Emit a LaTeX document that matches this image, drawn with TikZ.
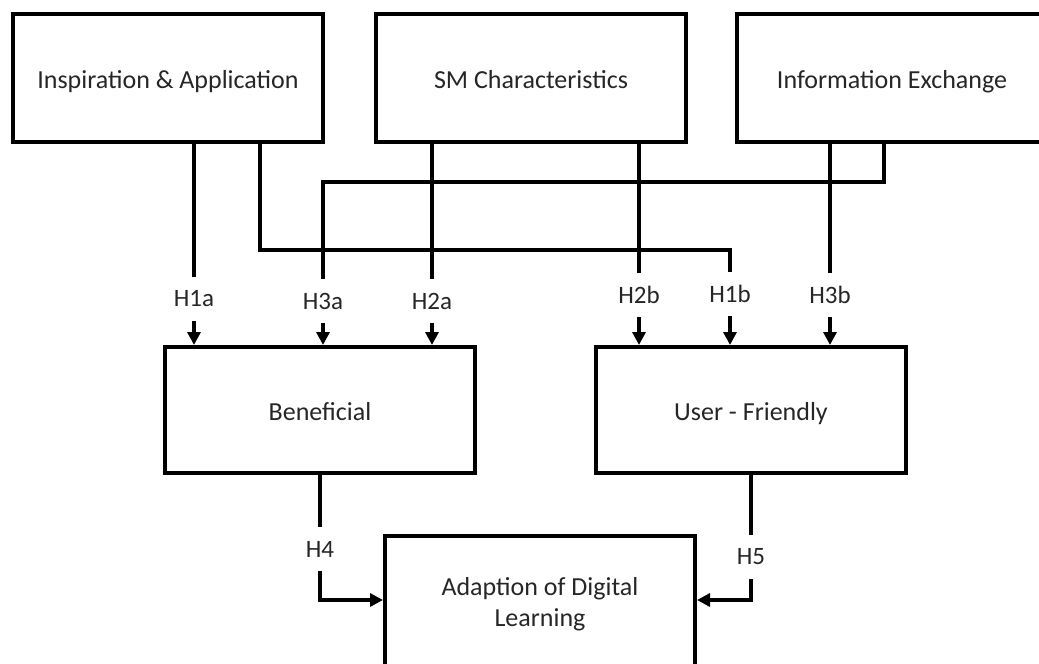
\documentclass[tikz,border=0pt]{standalone}
\usepackage{fontspec}
\setmainfont{Carlito}
\usetikzlibrary{arrows.meta,calc}
\tikzset{
    factor/.style={draw,line width=2pt,minimum width=155pt,minimum height=64pt,inner sep=4pt,align=center,text=black!85,font=\fontsize{13}{15.5}\selectfont},
    single/.style={factor,text height=12pt,text depth=2pt},
    hyp/.style={fill=white,inner sep=2pt,minimum height=22pt,text=black!85,font=\fontsize{12.5}{15.5}\selectfont},
    link/.style={draw,line width=1.7pt},
    hyparrow/.style={link,-{Triangle[length=6.5pt,width=6.5pt]}},
}

\begin{document}
\begin{tikzpicture}[x=0.5pt,y=-0.5pt]
    \useasboundingbox (0,0) rectangle (1039,664);
    \node[single] (insp) at (168,78) {Inspiration \& Application};
    \node[single] (smc) at (531,78) {SM Characteristics};
    \node[single] (info) at (892,78) {Information Exchange};
    \node[single,minimum height=63pt] (bene) at (320,410) {Beneficial};
    \node[single,minimum height=63pt] (user) at (751,410) {User - Friendly};
    \node[factor,minimum height=68pt] (adapt) at (540,604) {Adaption of Digital\\Learning};
    \node[hyp] (l1a) at (194,299) {H1a};
    \node[hyp] (l3a) at (323,301) {H3a};
    \node[hyp] (l2a) at (432,301) {H2a};
    \node[hyp] (l2b) at (639,295) {H2b};
    \node[hyp] (l1b) at (730,294) {H1b};
    \node[hyp] (l3b) at (830,295) {H3b};
    \node[hyp] (l4) at (320,549) {H4};
    \node[hyp] (l5) at (751,557) {H5};
    \coordinate (k1b) at (260,250);
    \coordinate (k3a) at (884,182);
    \draw[link] (insp.south -| l1a) -- (l1a);
    \draw[hyparrow] (l1a) -- (bene.north -| l1a);
    \draw[link] (info.south -| k3a) |- (l3a |- k3a) -- (l3a);
    \draw[hyparrow] (l3a) -- (bene.north -| l3a);
    \draw[link] (smc.south -| l2a) -- (l2a);
    \draw[hyparrow] (l2a) -- (bene.north -| l2a);
    \draw[link] (smc.south -| l2b) -- (l2b);
    \draw[hyparrow] (l2b) -- (user.north -| l2b);
    \draw[link] (insp.south -| k1b) |- (l1b |- k1b) -- (l1b);
    \draw[hyparrow] (l1b) -- (user.north -| l1b);
    \draw[link] (info.south -| l3b) -- (l3b);
    \draw[hyparrow] (l3b) -- (user.north -| l3b);
    \draw[link] (bene.south) -- (l4);
    \draw[hyparrow] (l4) |- ([yshift=2pt]adapt.west);
    \draw[link] (user.south) -- (l5);
    \draw[hyparrow] (l5) |- ([yshift=2pt]adapt.east);
\end{tikzpicture}
\end{document}
